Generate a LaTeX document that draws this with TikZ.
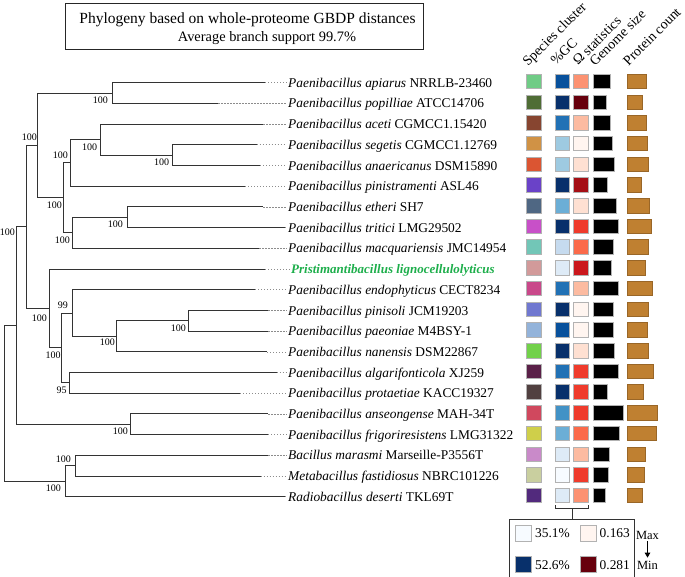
\documentclass[tikz,border=0pt]{standalone}
\usepackage{fontspec}
\setmainfont{Liberation Serif}
\usetikzlibrary{arrows.meta}
% Blues
\definecolor{bA}{HTML}{F7FBFF}\definecolor{bB}{HTML}{DEEBF7}\definecolor{bC}{HTML}{C6DBEF}
\definecolor{bD}{HTML}{9ECAE1}\definecolor{bE}{HTML}{6BAED6}\definecolor{bF}{HTML}{4292C6}
\definecolor{bG}{HTML}{2171B5}\definecolor{bH}{HTML}{08519C}\definecolor{bI}{HTML}{08306B}
% Reds
\definecolor{rA}{HTML}{FFF5F0}\definecolor{rB}{HTML}{FEE0D2}\definecolor{rC}{HTML}{FCBBA1}
\definecolor{rD}{HTML}{FC9272}\definecolor{rE}{HTML}{FB6A4A}\definecolor{rF}{HTML}{EF3B2C}
\definecolor{rG}{HTML}{CB181D}\definecolor{rH}{HTML}{A50F15}\definecolor{rI}{HTML}{67000D}
% species clusters
\definecolor{sc1}{HTML}{70CC86}\definecolor{sc2}{HTML}{4F6D35}\definecolor{sc3}{HTML}{874530}
\definecolor{sc4}{HTML}{D09245}\definecolor{sc5}{HTML}{DB5532}\definecolor{sc6}{HTML}{6A42C8}
\definecolor{sc7}{HTML}{4F6783}\definecolor{sc8}{HTML}{C850C8}\definecolor{sc9}{HTML}{72C6B7}
\definecolor{sc10}{HTML}{D29A9A}\definecolor{sc11}{HTML}{C9488A}\definecolor{sc12}{HTML}{7078D0}
\definecolor{sc13}{HTML}{93B3DA}\definecolor{sc14}{HTML}{72D14A}\definecolor{sc15}{HTML}{5A2048}
\definecolor{sc16}{HTML}{514040}\definecolor{sc17}{HTML}{D0485E}\definecolor{sc18}{HTML}{CFCF4A}
\definecolor{sc19}{HTML}{C98AC9}\definecolor{sc20}{HTML}{C9CF9F}\definecolor{sc21}{HTML}{522A7D}
\definecolor{protc}{HTML}{BF8031}
\definecolor{newgreen}{HTML}{1DAE4B}
\begin{document}
\begin{tikzpicture}[x=1pt,y=-1pt,
  branch/.style={line width=0.9pt, draw=black!80},
  dotline/.style={draw=black!45, line width=0.6pt, dash pattern=on 1.2pt off 1.8pt},
  taxon/.style={anchor=base west, inner sep=0pt, font=\fontsize{13.4}{16}\selectfont},
  boot/.style={anchor=east, inner sep=0pt, font=\fontsize{10}{12}\selectfont},
  cell/.style={draw=black!30, line width=0.5pt, inner sep=0pt, minimum height=14.5pt, anchor=west},
  header/.style={anchor=base west, rotate=45, inner sep=0pt, font=\fontsize{14}{16}\selectfont},
  legtext/.style={anchor=west, inner sep=0pt, font=\fontsize{13.4}{16}\selectfont},
]
\useasboundingbox (0,0) rectangle (685,577);

% ---- title
\node[draw=black!85, line width=0.9pt, minimum width=358pt, minimum height=46pt, anchor=north west, inner sep=0pt] (tbox) at (65,3) {};
\node[font=\fontsize{15.5}{18}\selectfont, inner sep=0pt] (tl1) at (247.5,20) {Phylogeny based on whole-proteome GBDP distances};
\node[font=\fontsize{14.4}{16}\selectfont, inner sep=0pt] (tl2) at (267,38.5) {Average branch support 99.7\%};

% ---- leaf ends
\coordinate (e1) at (265,82.7);
\coordinate (e2) at (218.3,103.4);
\coordinate (e3) at (263.3,124.1);
\coordinate (e4) at (256.7,144.8);
\coordinate (e5) at (260,165.5);
\coordinate (e6) at (245,186.2);
\coordinate (e7) at (263.3,206.9);
\coordinate (e8) at (285,227.6);
\coordinate (e9) at (259.3,248.3);
\coordinate (e10) at (265,269.0);
\coordinate (e11) at (255,289.7);
\coordinate (e12) at (268.3,310.4);
\coordinate (e13) at (268.3,331.1);
\coordinate (e14) at (267,351.8);
\coordinate (e15) at (276.7,372.5);
\coordinate (e16) at (240,393.2);
\coordinate (e17) at (268.3,413.9);
\coordinate (e18) at (268,434.6);
\coordinate (e19) at (268.3,455.3);
\coordinate (e20) at (260.7,476.0);
\coordinate (e21) at (285,496.7);

% ---- internal nodes
\coordinate (nA) at (112.7,93.05);
\coordinate (n172) at (172.7,155.15);
\coordinate (n100) at (100.7,139.63);
\coordinate (n70) at (70,162.91);
\coordinate (n127) at (127.7,217.25);
\coordinate (n72u) at (72.7,232.78);
\coordinate (n63) at (63.3,197.84);
\coordinate (nB) at (37.7,145.45);
\coordinate (n188) at (188.3,320.75);
\coordinate (n116) at (116.7,336.28);
\coordinate (n72l) at (72.7,312.99);
\coordinate (n69) at (69,382.85);
\coordinate (n61) at (61.7,347.92);
\coordinate (n49) at (49.3,308.46);
\coordinate (n26) at (26.7,226.95);
\coordinate (n130) at (130,424.25);
\coordinate (n16) at (16,325.6);
\coordinate (n75) at (75.7,465.65);
\coordinate (n65) at (65,481.18);
\coordinate (root) at (4.3,403.39);

% ---- branches
\draw[branch] (root) |- (n16);  \draw[branch] (root) |- (n65);
\draw[branch] (n16) |- (n26);   \draw[branch] (n16) |- (n130);
\draw[branch] (n26) |- (nB);    \draw[branch] (n26) |- (n49);
\draw[branch] (nB) |- (nA);     \draw[branch] (nB) |- (n63);
\draw[branch] (nA) |- (e1);     \draw[branch] (nA) |- (e2);
\draw[branch] (n63) |- (n70);   \draw[branch] (n63) |- (n72u);
\draw[branch] (n70) |- (n100);  \draw[branch] (n70) |- (e6);
\draw[branch] (n100) |- (e3);   \draw[branch] (n100) |- (n172);
\draw[branch] (n172) |- (e4);   \draw[branch] (n172) |- (e5);
\draw[branch] (n72u) |- (n127); \draw[branch] (n72u) |- (e9);
\draw[branch] (n127) |- (e7);   \draw[branch] (n127) |- (e8);
\draw[branch] (n49) |- (e10);   \draw[branch] (n49) |- (n61);
\draw[branch] (n61) |- (n72l);  \draw[branch] (n61) |- (n69);
\draw[branch] (n72l) |- (e11);  \draw[branch] (n72l) |- (n116);
\draw[branch] (n116) |- (n188); \draw[branch] (n116) |- (e14);
\draw[branch] (n188) |- (e12);  \draw[branch] (n188) |- (e13);
\draw[branch] (n69) |- (e15);   \draw[branch] (n69) |- (e16);
\draw[branch] (n130) |- (e17);  \draw[branch] (n130) |- (e18);
\draw[branch] (n65) |- (n75);   \draw[branch] (n65) |- (e21);
\draw[branch] (n75) |- (e19);   \draw[branch] (n75) |- (e20);

% ---- bootstrap values
\node[boot] (b1) at (108,100.3) {100};
\node[boot] (b2) at (37,137.7) {100};
\node[boot] (b3) at (68,155.7) {100};
\node[boot] (b4) at (97.3,147.3) {100};
\node[boot] (b5) at (169.3,162.3) {100};
\node[boot] (b6) at (62,205.7) {100};
\node[boot] (b7) at (123,224.3) {100};
\node[boot] (b8) at (70,240) {100};
\node[boot] (b9) at (15,232) {100};
\node[boot] (b10) at (68,305) {99};
\node[boot] (b11) at (47,318.3) {100};
\node[boot] (b12) at (115,342.7) {100};
\node[boot] (b13) at (186,328.3) {100};
\node[boot] (b14) at (60.7,355.3) {100};
\node[boot] (b15) at (66.7,390) {95};
\node[boot] (b16) at (128,431.7) {100};
\node[boot] (b17) at (71,459) {100};
\node[boot] (b18) at (61,488.7) {100};

% ---- taxa
\node[taxon] (t1) at (288,87.3) {\textit{Paenibacillus apiarus} NRRLB-23460};
\node[taxon] (t2) at (288,108.0) {\textit{Paenibacillus popilliae} ATCC14706};
\node[taxon] (t3) at (288,128.7) {\textit{Paenibacillus aceti} CGMCC1.15420};
\node[taxon] (t4) at (288,149.4) {\textit{Paenibacillus segetis} CGMCC1.12769};
\node[taxon] (t5) at (288,170.1) {\textit{Paenibacillus anaericanus} DSM15890};
\node[taxon] (t6) at (288,190.8) {\textit{Paenibacillus pinistramenti} ASL46};
\node[taxon] (t7) at (288,211.5) {\textit{Paenibacillus etheri} SH7};
\node[taxon] (t8) at (288,232.2) {\textit{Paenibacillus tritici} LMG29502};
\node[taxon] (t9) at (288,252.9) {\textit{Paenibacillus macquariensis} JMC14954};
\node[taxon, text=newgreen, font=\fontsize{13}{16}\selectfont] (t10) at (291,273.6) {\textbf{\textit{Pristimantibacillus lignocellulolyticus}}};
\node[taxon] (t11) at (288,294.3) {\textit{Paenibacillus endophyticus} CECT8234};
\node[taxon] (t12) at (288,315.0) {\textit{Paenibacillus pinisoli} JCM19203};
\node[taxon] (t13) at (288,335.7) {\textit{Paenibacillus paeoniae} M4BSY-1};
\node[taxon] (t14) at (288,356.4) {\textit{Paenibacillus nanensis} DSM22867};
\node[taxon] (t15) at (288,377.1) {\textit{Paenibacillus algarifonticola} XJ259};
\node[taxon] (t16) at (288,397.8) {\textit{Paenibacillus protaetiae} KACC19327};
\node[taxon] (t17) at (288,418.5) {\textit{Paenibacillus anseongense} MAH-34T};
\node[taxon] (t18) at (288,439.2) {\textit{Paenibacillus frigoriresistens} LMG31322};
\node[taxon] (t19) at (288,459.9) {\textit{Bacillus marasmi} Marseille-P3556T};
\node[taxon] (t20) at (288,480.6) {\textit{Metabacillus fastidiosus} NBRC101226};
\node[taxon] (t21) at (288,501.3) {\textit{Radiobacillus deserti} TKL69T};

\foreach \i in {1,...,21}{
  \draw[dotline] (e\i) -- ([xshift=-1.5pt]e\i -| t\i.west);
}

% ---- headers
\node[header] (h1) at (528,67) {Species cluster};
\node[header] (h2) at (556,66) {\%GC};
\node[header] (h3) at (578,66) {Ω statistics};
\node[header] (h4) at (595,67) {Genome size};
\node[header] (h5) at (628.5,66.5) {Protein count};

% ---- data cells
\foreach \i/\r/\g/\o/\gw/\pw in {
 1/82.7/bH/rD/17.6/19, 2/103.4/bI/rI/13/15, 3/124.1/bG/rC/17.7/19,
 4/144.8/bD/rA/19/20, 5/165.5/bD/rB/21/21, 6/186.2/bI/rH/14/14,
 7/206.9/bE/rB/23/22, 8/227.6/bI/rF/25/24, 9/248.3/bC/rE/20/21,
 10/269.0/bB/rG/18/18, 11/289.7/bG/rC/25/25, 12/310.4/bI/rA/20/21,
 13/331.1/bH/rA/20/20, 14/351.8/bI/rB/21/21, 15/372.5/bG/rF/25/26,
 16/393.2/bI/rF/14/16, 17/413.9/bF/rF/30/30, 18/434.6/bE/rE/26/29,
 19/455.3/bB/rC/16/18, 20/476.0/bA/rF/15/17, 21/496.7/bB/rD/12/15}{
  \node[cell, fill=sc\i, minimum width=15pt] (s\i) at (526,\r-1.3) {};
  \node[cell, fill=\g, minimum width=14.3pt] (g\i) at (555,\r-1.3) {};
  \node[cell, fill=\o, minimum width=14.3pt] (o\i) at (573.3,\r-1.3) {};
  \node[cell, fill=black, minimum width=\gw pt] (z\i) at (592.7,\r-1.3) {};
  \node[cell, fill=protc, draw=protc!80!black, minimum width=\pw pt] (p\i) at (627.3,\r-1.3) {};
}

% ---- legend
\node[draw=black!80, line width=0.7pt, minimum width=125pt, minimum height=57.5pt, anchor=north west, inner sep=0pt] (leg) at (509.3,519) {};
\coordinate (brL) at ([yshift=-2.3pt]g21.south west);
\coordinate (brR) at ([yshift=-2.3pt]o21.south east);
\draw[black!80, line width=0.6pt] (brL) -- ++(0,3.3) -| (brR);
\draw[black!80, line width=0.6pt] (leg.north) -- (leg.north |- 0,508.3);

\node[cell, anchor=center, fill=bA, minimum width=16.5pt, minimum height=16pt] (lq1) at (523.3,533) {};
\node[cell, anchor=center, fill=rA, minimum width=16.5pt, minimum height=16pt] (lq2) at (588,533) {};
\node[cell, anchor=center, fill=bI, minimum width=16.5pt, minimum height=16pt] (lq3) at (523.3,564.5) {};
\node[cell, anchor=center, fill=rI, minimum width=16.5pt, minimum height=16pt] (lq4) at (588,564.5) {};
\node[legtext] (lt1) at (535,533.5) {35.1\%};
\node[legtext] (lt2) at (599.5,533.5) {0.163};
\node[legtext] (lt3) at (535,565) {52.6\%};
\node[legtext] (lt4) at (599.5,565) {0.281};
\node[inner sep=0pt, font=\fontsize{12.5}{14}\selectfont] (max) at (647.5,535) {Max};
\node[inner sep=0pt, font=\fontsize{12.5}{14}\selectfont] (min) at (647.5,565) {Min};
\draw[line width=1.1pt, -{Triangle[length=5pt,width=5.5pt]}, shorten <=2pt, shorten >=3pt] (max.south) -- (min.north);
\end{tikzpicture}
\end{document}
